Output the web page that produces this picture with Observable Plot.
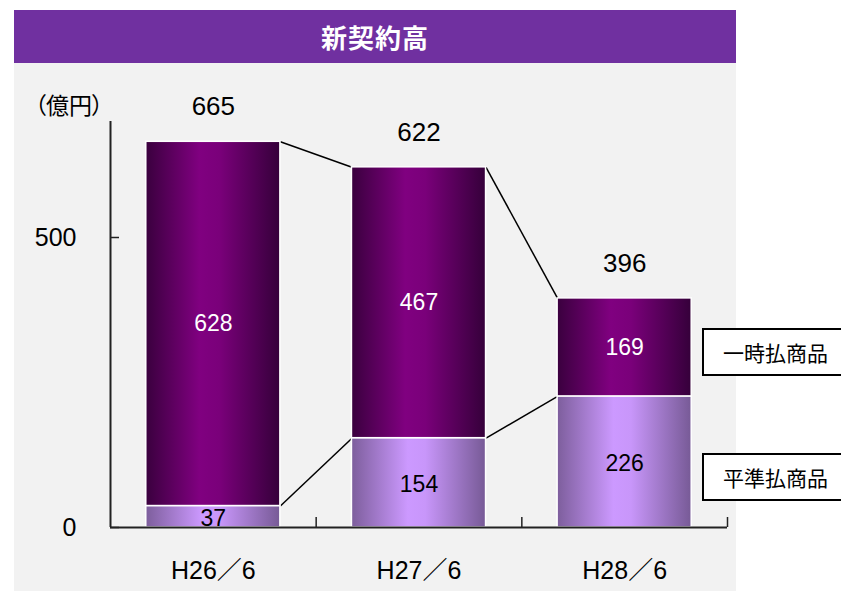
<!DOCTYPE html>
<html><head><meta charset="utf-8">
<script src="https://cdn.jsdelivr.net/npm/d3@7"></script>
<script src="https://cdn.jsdelivr.net/npm/@observablehq/plot@0.6"></script>
<style>
body{margin:0;background:#fff;}
#wrap{position:relative;width:841px;height:591px;overflow:hidden;font-family:"Liberation Sans","Noto Sans CJK JP",sans-serif;}
#title{position:absolute;left:14px;top:10px;width:722px;height:53px;background:#7030A0;color:#fff;font-weight:bold;font-size:26px;font-family:"Noto Sans CJK JP",sans-serif;display:flex;align-items:center;justify-content:center;letter-spacing:1px;}
#panel{position:absolute;left:14px;top:63px;width:722px;height:528px;background:#f2f2f2;}
#chart{position:absolute;left:0;top:63px;}
#unit{position:absolute;left:36px;top:89px;font-size:23px;font-family:"Noto Sans CJK JP",sans-serif;color:#000;line-height:30px;white-space:nowrap;}
#unit .pl{margin-left:-12px;margin-right:-1px;}
#unit .pr{margin-left:-1px;margin-right:-12px;}
.leg{position:absolute;left:702px;width:160px;height:48px;border:2px solid #000;background:#fff;box-sizing:border-box;font-size:21px;font-family:"Noto Sans CJK JP",sans-serif;line-height:44px;padding-left:19px;color:#000;}
</style>
</head><body>
<div id="wrap">
  <div id="title">新契約高</div>
  <div id="panel"></div>
  <div id="chart"></div>
  <div id="unit"><span class="pl">（</span>億円<span class="pr">）</span></div>
  <div class="leg" id="leg1" style="top:328px"></div>
  <div class="leg" id="leg2" style="top:453px"></div>
</div>
<script>
const categories = ["H26／6", "H27／6", "H28／6"];
const ichiji = [628, 467, 169];   // 一時払商品
const heijun = [37, 154, 226];    // 平準払商品
const totals = [665, 622, 396];
const seriesNames = ["一時払商品", "平準払商品"];
const yTicks = [0, 500];

document.getElementById("leg1").textContent = seriesNames[0];
document.getElementById("leg2").textContent = seriesNames[1];

const hw = 0.326; // half bar width in band units
const rows = categories.map((c, i) => ({i, cat: c, ichiji: ichiji[i], heijun: heijun[i], total: totals[i]}));
const pairs = rows.slice(0, -1).map((r, k) => ({a: r, b: rows[k + 1]}));
const bounds = categories.map((c, i) => i + 0.5);

const svg = Plot.plot({
  width: 841, height: 528,
  marginLeft: 110, marginRight: 114, marginTop: 58, marginBottom: 64,
  x: {domain: [-0.5, categories.length - 0.5], axis: null, label: null},
  y: {domain: [0, 700], axis: null, label: null},
  style: {background: "transparent", overflow: "visible", fontFamily: "Liberation Sans, Noto Sans CJK JP, sans-serif", color: "#000"},
  marks: [
    Plot.link(pairs, {x1: d => d.a.i + hw, y1: d => d.a.heijun + d.a.ichiji, x2: d => d.b.i - hw, y2: d => d.b.heijun + d.b.ichiji, stroke: "#000", strokeWidth: 1.5}),
    Plot.link(pairs, {x1: d => d.a.i + hw, y1: d => d.a.heijun, x2: d => d.b.i - hw, y2: d => d.b.heijun, stroke: "#000", strokeWidth: 1.5}),
    Plot.rectY(rows, {x1: d => d.i - hw, x2: d => d.i + hw, y1: 0, y2: "heijun", fill: "url(#gLight)", stroke: "#fff", strokeWidth: 1.5}),
    Plot.rectY(rows, {x1: d => d.i - hw, x2: d => d.i + hw, y1: "heijun", y2: d => d.heijun + d.ichiji, fill: "url(#gDark)", stroke: "#fff", strokeWidth: 1.5}),
    Plot.ruleY([0], {stroke: "#222", strokeWidth: 2}),
    Plot.ruleX([-0.5], {y1: 0, y2: 700, stroke: "#222", strokeWidth: 2}),
    Plot.axisY({ticks: yTicks, tickSize: 9, dx: 9, tickFormat: () => "", label: null, stroke: "#222", strokeWidth: 1.5}),
    Plot.axisY({ticks: yTicks, tickSize: 0, tickPadding: 34, fontSize: 25, tickFormat: d => String(d), label: null, fill: "#000"}),
    Plot.axisX({ticks: bounds, tickSize: 10, dy: -10, tickFormat: () => "", label: null, stroke: "#222", strokeWidth: 1.5}),
    Plot.text(rows, {x: "i", y: 0, text: "cat", dy: 43, fontSize: 25, fill: "#000"}),
    Plot.text(rows, {x: "i", y: d => d.heijun + d.ichiji, text: d => String(d.total), dy: -35, fontSize: 26, fill: "#000"}),
    Plot.text(rows, {x: "i", y: d => d.heijun + d.ichiji / 2, text: d => String(d.ichiji), fontSize: 23, fill: "#fff"}),
    Plot.text(rows, {x: "i", y: d => d.heijun / 2, text: d => String(d.heijun), dy: 2, fontSize: 23, fill: "#000"})
  ]
});

d3.select(svg).insert("defs", ":first-child").html(`
  <linearGradient id="gDark" x1="0" x2="1" y1="0" y2="0">
    <stop offset="0" stop-color="#3a003e"/>
    <stop offset="0.4" stop-color="#800080"/>
    <stop offset="0.55" stop-color="#7a007a"/>
    <stop offset="1" stop-color="#35003a"/>
  </linearGradient>
  <linearGradient id="gLight" x1="0" x2="1" y1="0" y2="0">
    <stop offset="0" stop-color="#7d5e9c"/>
    <stop offset="0.42" stop-color="#cc99ff"/>
    <stop offset="0.55" stop-color="#c896fa"/>
    <stop offset="1" stop-color="#775a96"/>
  </linearGradient>`);

document.getElementById("chart").appendChild(svg);
</script>
</body></html>
